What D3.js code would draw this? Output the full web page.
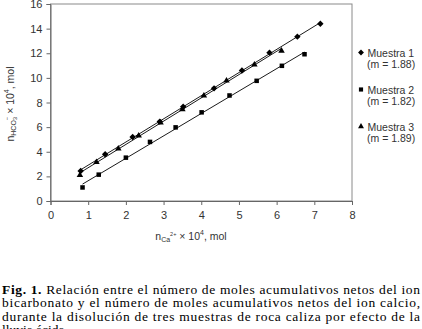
<!DOCTYPE html>
<html>
<head>
<meta charset="utf-8">
<script src="https://cdn.jsdelivr.net/npm/d3@7"></script>
<style>
  body { margin: 0; background: #fff; }
  svg { display: block; }
  .tick text { font-family: "Liberation Sans", Arial, sans-serif; font-size: 11px; fill: #333; }
  .lbl { font-family: "Liberation Sans", Arial, sans-serif; font-size: 10.5px; fill: #333; }
  .cap { font-family: "Liberation Serif", "Times New Roman", serif; font-size: 13.5px; fill: #000; }
</style>
</head>
<body>
<div id="chart"></div>
<script>
// values (x = nCa2+ x10^4, y = nHCO3- x10^4)
const muestra1X = [0.80, 1.45, 2.18, 2.90, 3.52, 4.34, 5.08, 5.81, 6.55, 7.16];
const muestra1Y = [2.44, 3.80, 5.20, 6.45, 7.66, 9.15, 10.60, 12.05, 13.35, 14.40];
const muestra2X = [0.85, 1.28, 2.00, 2.64, 3.32, 4.01, 4.75, 5.47, 6.14, 6.74];
const muestra2Y = [1.10, 2.14, 3.52, 4.80, 5.98, 7.20, 8.57, 9.76, 10.98, 11.92];
const muestra3X = [0.78, 1.22, 1.80, 2.34, 2.92, 3.50, 4.07, 4.67, 5.41, 6.13];
const muestra3Y = [2.10, 3.15, 4.25, 5.30, 6.36, 7.45, 8.55, 9.77, 11.07, 12.20];

const seriesNames = ['Muestra 1', 'Muestra 2', 'Muestra 3'];
const slopes = ['1.88', '1.82', '1.89'];
const xTicks = [0, 1, 2, 3, 4, 5, 6, 7, 8];
const yTicks = [0, 2, 4, 6, 8, 10, 12, 14, 16];

const captionLines = [
  'Relación entre el número de moles acumulativos netos del ion',
  'bicarbonato y el número de moles acumulativos netos del ion calcio,',
  'durante  la disolución de tres muestras de roca caliza por efecto de la',
  'lluvia ácida.'
];

const width = 422, height = 329;
const plot = {left: 50.5, right: 352, top: 4, bottom: 201};

const svg = d3.select('#chart').append('svg')
  .attr('width', width)
  .attr('height', height);

const x = d3.scaleLinear().domain([0, 8]).range([plot.left, plot.right]);
const y = d3.scaleLinear().domain([0, 16]).range([plot.bottom, plot.top]);

// plot area frame
svg.append('rect')
  .attr('x', plot.left).attr('y', plot.top)
  .attr('width', plot.right - plot.left).attr('height', plot.bottom - plot.top)
  .attr('fill', 'none').attr('stroke', '#8a8a8a').attr('stroke-width', 1);

const xAxis = svg.append('g')
  .attr('transform', `translate(0,${plot.bottom})`)
  .call(d3.axisBottom(x).tickValues(xTicks).tickSize(4).tickPadding(6));
const yAxis = svg.append('g')
  .attr('transform', `translate(${plot.left},0)`)
  .call(d3.axisLeft(y).tickValues(yTicks).tickSize(4).tickPadding(4));
[xAxis, yAxis].forEach(a => {
  a.select('.domain').attr('stroke', '#666');
  a.selectAll('.tick line').attr('stroke', '#666');
});

const series = [
  {name: seriesNames[0], m: slopes[0], xs: muestra1X, ys: muestra1Y, sym: d3.symbolDiamond2, size: 26},
  {name: seriesNames[1], m: slopes[1], xs: muestra2X, ys: muestra2Y, sym: d3.symbolSquare2, size: 26},
  {name: seriesNames[2], m: slopes[2], xs: muestra3X, ys: muestra3Y, sym: d3.symbolTriangle2, size: 30}
];

// least-squares trend line over each series' x range
function fit(xs, ys) {
  const mx = d3.mean(xs), my = d3.mean(ys);
  const b = d3.sum(xs, (v, i) => (v - mx) * (ys[i] - my)) / d3.sum(xs, v => (v - mx) * (v - mx));
  const a = my - b * mx;
  const [x0, x1] = d3.extent(xs);
  return [[x0, a + b * x0], [x1, a + b * x1]];
}

const line = d3.line().x(d => x(d[0])).y(d => y(d[1]));

series.forEach(s => {
  svg.append('path')
    .attr('d', line(fit(s.xs, s.ys)))
    .attr('fill', 'none')
    .attr('stroke', '#000')
    .attr('stroke-width', 0.9);
});

series.forEach(s => {
  svg.append('g').selectAll('path')
    .data(s.xs.map((v, i) => [v, s.ys[i]]))
    .join('path')
    .attr('transform', d => `translate(${x(d[0])},${y(d[1])})`)
    .attr('d', d3.symbol().type(s.sym).size(s.size))
    .attr('fill', '#000');
});

// legend
const legend = svg.append('g');
series.forEach((s, i) => {
  const ly = 53 + i * 37;
  legend.append('path')
    .attr('transform', `translate(361,${ly - 0.5})`)
    .attr('d', d3.symbol().type(s.sym).size(s.size * 0.85))
    .attr('fill', '#000');
  legend.append('text').attr('class', 'lbl')
    .attr('x', 367.5).attr('y', ly + 3.5).text(s.name);
  legend.append('text').attr('class', 'lbl')
    .attr('x', 367).attr('y', ly + 15).text(`(m = ${s.m})`);
});

// axis titles
const xt = svg.append('text').attr('class', 'lbl')
  .attr('x', 191).attr('y', 240).attr('text-anchor', 'middle');
xt.append('tspan').text('n');
xt.append('tspan').attr('font-size', '7px').attr('dy', 2).text('Ca');
xt.append('tspan').attr('font-size', '5.5px').attr('dy', -6).text('2+');
xt.append('tspan').attr('dy', 4).text(' \u00d7 10');
xt.append('tspan').attr('font-size', '7px').attr('dy', -5).text('4');
xt.append('tspan').attr('dy', 5).text(', mol');

const yt = svg.append('text').attr('class', 'lbl')
  .attr('transform', 'translate(14,104) rotate(-90)')
  .attr('text-anchor', 'middle');
yt.append('tspan').text('n');
yt.append('tspan').attr('font-size', '7px').attr('dy', 2).text('HCO');
yt.append('tspan').attr('font-size', '6px').attr('dy', 1).text('3');
yt.append('tspan').attr('font-size', '6px').attr('dx', -3.5).attr('dy', -8).text('\u2212');
yt.append('tspan').attr('dy', 5).text(' \u00d7 10');
yt.append('tspan').attr('font-size', '7px').attr('dy', -5).text('4');
yt.append('tspan').attr('dy', 5).text(', mol');

// caption
const capTop = 293.5, capStep = 13.6;
captionLines.forEach((t, i) => {
  const tx = svg.append('text').attr('class', 'cap')
    .attr('x', 2).attr('y', capTop + i * capStep);
  if (i === 0) {
    tx.append('tspan').attr('font-weight', 'bold').text('Fig. 1.');
    tx.append('tspan').text(' ' + t);
  } else {
    tx.text(t);
  }
  if (i < captionLines.length - 1) {
    tx.attr('textLength', 418).attr('lengthAdjust', 'spacing');
  }
});
</script>
</body>
</html>
